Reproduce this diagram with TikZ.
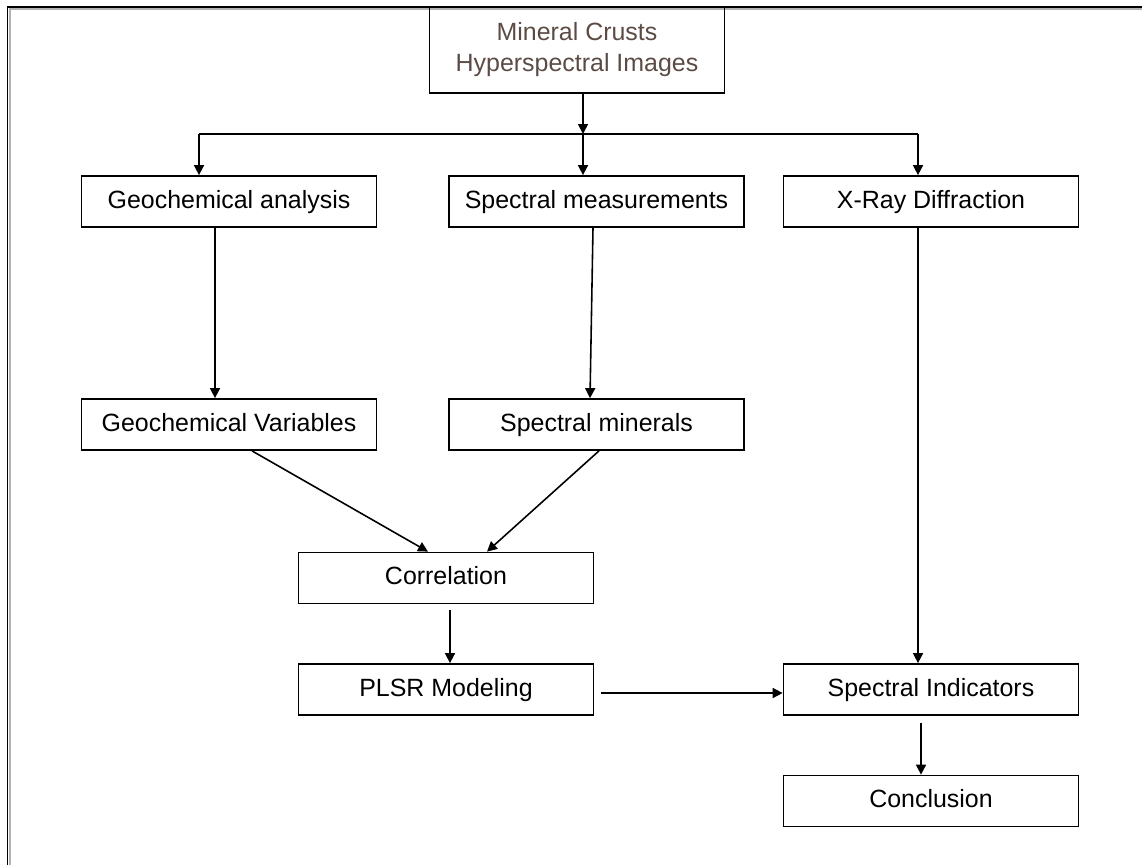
\documentclass[tikz,border=0pt]{standalone}
\usepackage{fontspec}
\setmainfont{Liberation Sans}
\usetikzlibrary{arrows.meta,calc}
\definecolor{crustbrown}{RGB}{91,75,68}
\tikzset{
  flowbox/.style={draw,line width=1pt,minimum width=5.9cm,minimum height=1.02cm,
    inner sep=0pt,align=center,font=\fontsize{14.2}{17.6}\selectfont},
  oneline/.style={flowbox,text height=0.88em,text depth=0.1em},
  flowarrow/.style={-{Triangle[length=0.2cm,width=0.2cm]},line width=0.9pt},
}
\begin{document}
\begin{tikzpicture}[x=0.02cm,y=-0.02cm]
              \useasboundingbox (0,0) rectangle (1142,865);
              % frame, left and top only
              \draw[gray!60,line width=0.8pt] (10,865) -- (10,9) -- (1142,9);
              \draw[line width=1.1pt] (7.5,865) -- (7.5,7) -- (1142,7);
              % boxes
              \node[flowbox,minimum height=1.72cm,text=crustbrown] (crusts) at (577,50) {Mineral Crusts\\Hyperspectral Images};
              \node[oneline] (geoanalysis) at (229,201.5) {Geochemical analysis};
              \node[oneline] (specmeas) at (596.5,201.5) {Spectral measurements};
              \node[oneline] (xrd) at (931,201.5) {X-Ray Diffraction};
              \node[oneline] (geovars) at (229,424.5) {Geochemical Variables};
              \node[oneline] (specmin) at (596.5,424.5) {Spectral minerals};
              \node[oneline] (correl) at (446,578) {Correlation};
              \node[oneline] (plsr) at (446,689.5) {PLSR Modeling};
              \node[oneline] (specind) at (931,689.5) {Spectral Indicators};
              \node[oneline] (concl) at (931,801) {Conclusion};
              % split under the top box
              \coordinate (split) at (583,134);
              \coordinate (splitL) at (199,134);
              \coordinate (splitR) at (918,134);
              \draw[flowarrow] (crusts.south -| split) -- (split);
              \draw[line width=0.9pt] (splitL) -- (splitR);
              \foreach \s/\t in {splitL/geoanalysis,split/specmeas,splitR/xrd}{
              \draw[flowarrow] (\s) -- (\s |- \t.north);}
              % columns
              \draw[flowarrow] ([xshift=-0.28cm]geoanalysis.south) -- ([xshift=-0.28cm]geovars.north);
              \draw[flowarrow] ([xshift=-0.07cm]specmeas.south) -- ([xshift=-0.13cm]specmin.north);
              \draw[flowarrow] ([xshift=-0.26cm]xrd.south) -- ([xshift=-0.26cm]specind.north);
              \draw[flowarrow] ([xshift=0.46cm]geovars.south) -- ([xshift=-0.36cm]correl.north);
              \draw[flowarrow] ([xshift=0.05cm]specmin.south) -- ([xshift=0.82cm]correl.north);
              \draw[flowarrow,shorten <=0.12cm] ([xshift=0.08cm]correl.south) -- ([xshift=0.08cm]plsr.north);
              \draw[flowarrow,shorten <=0.14cm] ([yshift=-0.07cm]plsr.east) -- ([yshift=-0.07cm]specind.west);
              \draw[flowarrow,shorten <=0.14cm] ([xshift=-0.2cm]specind.south) -- ([xshift=-0.2cm]concl.north);
          \end{tikzpicture}
\end{document}
